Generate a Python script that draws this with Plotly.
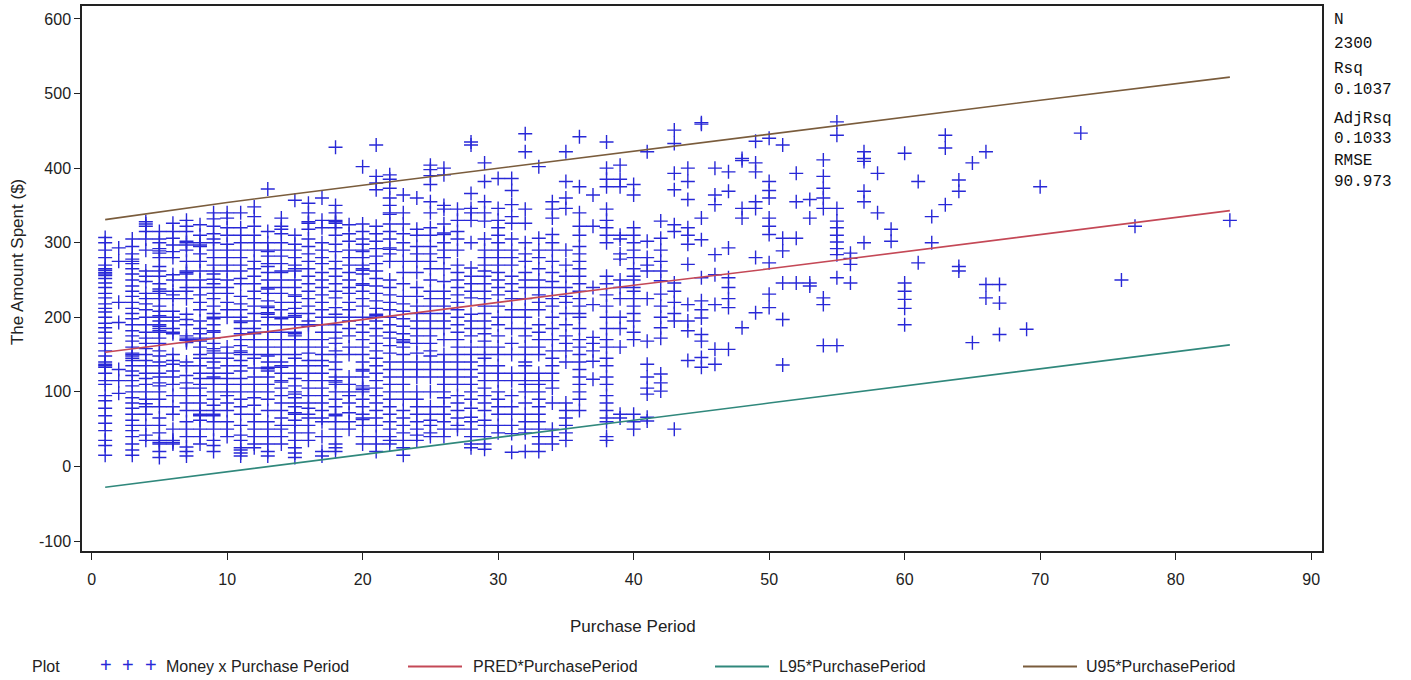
import plotly.graph_objects as go

# ---- scatter data: amount spent ($) observed at each purchase period ----
p01 = [15, 28, 35, 48, 58, 68, 78, 88, 95, 110, 115, 125, 133, 135, 137, 140, 148, 155, 165, 172, 180, 186, 192, 200, 207, 212, 218, 226, 232, 240, 246, 252, 256, 258, 260, 263, 265, 270, 280, 290, 300, 307]
p02 = [293, 275, 220, 193, 130, 115, 98]
p03 = [15, 22, 30, 40, 48, 55, 62, 70, 78, 85, 92, 100, 108, 115, 122, 128, 135, 142, 145, 148, 150, 152, 160, 168, 175, 182, 190, 198, 205, 212, 220, 228, 235, 242, 250, 258, 265, 272, 275, 278, 285, 295, 305]
p04 = [35, 42, 55, 70, 80, 84, 90, 100, 110, 118, 125, 135, 142, 150, 158, 165, 172, 180, 190, 200, 210, 218, 225, 232, 248, 255, 262, 290, 305, 315, 322, 325, 328]
p05 = [12, 20, 30, 32, 35, 45, 55, 65, 80, 90, 100, 108, 112, 120, 125, 135, 140, 148, 155, 165, 172, 180, 182, 185, 188, 190, 195, 200, 202, 208, 215, 225, 232, 235, 238, 245, 255, 262, 268, 280, 286, 289, 292, 300, 305, 315]
p06 = [30, 32, 35, 50, 70, 80, 95, 110, 120, 128, 137, 142, 150, 178, 180, 185, 195, 200, 208, 225, 230, 235, 250, 257, 280, 288, 297, 306, 315, 326]
p07 = [14, 20, 26, 40, 50, 60, 75, 85, 95, 105, 112, 122, 135, 140, 166, 169, 170, 172, 175, 190, 197, 204, 225, 235, 240, 250, 258, 260, 262, 275, 290, 297, 300, 302, 315, 322, 330]
p08 = [30, 40, 50, 62, 68, 70, 75, 85, 95, 105, 110, 118, 125, 135, 145, 150, 160, 168, 170, 172, 178, 185, 195, 210, 220, 230, 240, 250, 262, 275, 285, 295, 297, 300, 310, 324]
p09 = [20, 28, 35, 50, 60, 68, 70, 75, 82, 90, 100, 110, 118, 120, 125, 132, 140, 145, 152, 155, 158, 165, 172, 180, 182, 190, 198, 200, 205, 215, 225, 232, 240, 245, 251, 258, 262, 270, 280, 290, 300, 305, 312, 322, 332, 340]
p10 = [40, 50, 60, 75, 85, 95, 100, 110, 118, 125, 135, 145, 152, 160, 200, 210, 220, 232, 240, 250, 262, 270, 280, 290, 298, 310, 320, 333, 340]
p11 = [14, 18, 22, 25, 35, 42, 55, 70, 80, 90, 100, 110, 118, 128, 135, 142, 150, 153, 155, 162, 170, 178, 185, 193, 195, 200, 210, 218, 228, 245, 252, 262, 270, 280, 290, 300, 310, 320, 340]
p12 = [25, 30, 40, 50, 60, 70, 82, 92, 100, 110, 120, 132, 145, 150, 160, 170, 178, 180, 185, 195, 205, 215, 225, 235, 245, 255, 265, 275, 290, 300, 310, 322, 335, 348]
p13 = [14, 20, 30, 40, 50, 60, 75, 90, 100, 110, 120, 128, 131, 133, 140, 148, 150, 160, 170, 180, 190, 200, 204, 206, 213, 215, 222, 232, 238, 240, 250, 260, 268, 272, 282, 288, 290, 300, 315, 372]
p14 = [30, 40, 50, 55, 65, 75, 85, 95, 105, 113, 115, 125, 133, 135, 140, 150, 160, 170, 180, 190, 198, 200, 210, 220, 232, 240, 250, 260, 262, 272, 282, 290, 300, 312, 318, 322, 333]
p15 = [12, 18, 25, 35, 45, 55, 62, 70, 72, 80, 85, 92, 97, 100, 108, 118, 125, 135, 145, 150, 160, 170, 175, 178, 180, 190, 200, 202, 205, 212, 220, 228, 230, 240, 250, 262, 265, 270, 280, 290, 298, 310, 357]
p16 = [35, 45, 55, 65, 70, 78, 85, 95, 105, 115, 125, 135, 142, 152, 160, 170, 188, 190, 195, 205, 215, 225, 235, 245, 255, 265, 275, 285, 295, 305, 318, 326, 328, 340, 353]
p17 = [14, 20, 40, 60, 65, 75, 85, 95, 105, 115, 125, 135, 142, 150, 160, 170, 180, 190, 200, 210, 220, 230, 240, 250, 260, 272, 280, 290, 300, 320, 330, 360]
p18 = [20, 25, 30, 40, 50, 60, 68, 70, 80, 90, 100, 110, 113, 115, 120, 130, 140, 150, 155, 165, 172, 180, 190, 200, 204, 213, 226, 235, 245, 255, 265, 275, 288, 298, 310, 320, 326, 328, 330, 340, 350, 428]
p19 = [50, 60, 72, 85, 95, 100, 110, 120, 150, 160, 175, 185, 195, 200, 210, 220, 232, 240, 250, 260, 270, 280, 290, 302, 312, 324]
p20 = [30, 40, 55, 63, 65, 70, 80, 90, 100, 103, 105, 108, 120, 128, 130, 140, 150, 160, 170, 180, 190, 200, 215, 225, 235, 243, 245, 258, 263, 265, 270, 280, 288, 290, 298, 305, 315, 325, 402]
p21 = [20, 30, 40, 55, 65, 75, 85, 95, 105, 115, 125, 135, 145, 155, 165, 175, 185, 195, 200, 202, 204, 212, 222, 232, 242, 252, 262, 272, 282, 292, 302, 312, 322, 371, 380, 389, 431]
p22 = [30, 35, 40, 50, 60, 70, 80, 90, 100, 110, 120, 130, 140, 152, 162, 172, 180, 190, 200, 210, 220, 230, 240, 250, 275, 285, 291, 293, 305, 315, 325, 338, 340, 350, 360, 373, 385, 391]
p23 = [15, 25, 35, 45, 55, 65, 75, 90, 100, 110, 120, 130, 140, 150, 160, 166, 168, 170, 178, 188, 198, 208, 218, 228, 245, 260, 275, 290, 300, 312, 325, 340, 364]
p24 = [35, 42, 50, 60, 70, 80, 90, 100, 120, 130, 140, 152, 165, 175, 185, 195, 205, 215, 228, 240, 260, 275, 285, 295, 310, 318, 360]
p25 = [40, 45, 55, 62, 70, 80, 100, 120, 130, 140, 148, 155, 165, 175, 185, 195, 205, 215, 225, 235, 250, 265, 275, 285, 295, 310, 320, 340, 355, 378, 390, 398, 404]
p26 = [40, 50, 60, 70, 80, 92, 100, 110, 120, 130, 140, 150, 170, 185, 195, 205, 215, 225, 235, 248, 265, 280, 290, 300, 311, 313, 325, 345, 350, 391, 400]
p27 = [50, 55, 65, 75, 85, 95, 110, 120, 130, 140, 150, 160, 170, 180, 190, 200, 210, 220, 230, 240, 250, 260, 270, 290, 305, 315, 330, 345]
p28 = [25, 30, 40, 50, 60, 66, 78, 90, 100, 110, 120, 130, 140, 150, 160, 175, 185, 195, 204, 226, 235, 245, 255, 266, 300, 330, 340, 346, 366, 431, 435]
p29 = [23, 30, 40, 55, 62, 75, 85, 95, 105, 115, 125, 135, 145, 150, 160, 168, 178, 185, 195, 205, 215, 225, 235, 245, 255, 262, 270, 280, 290, 305, 329, 340, 355, 382, 407]
p30 = [45, 55, 70, 80, 90, 100, 115, 125, 135, 150, 160, 175, 190, 200, 215, 230, 240, 250, 260, 270, 280, 290, 300, 310, 320, 330, 346, 386]
p31 = [19, 44, 55, 70, 80, 95, 115, 125, 150, 165, 185, 200, 210, 225, 235, 245, 255, 270, 280, 290, 305, 326, 335, 351, 370, 386]
p32 = [20, 45, 50, 60, 70, 85, 100, 110, 115, 125, 135, 140, 150, 160, 175, 185, 200, 210, 225, 240, 250, 260, 275, 285, 300, 326, 345, 422, 446]
p33 = [20, 30, 40, 50, 60, 70, 80, 90, 100, 110, 115, 125, 150, 160, 170, 180, 190, 210, 220, 230, 240, 250, 265, 280, 290, 306, 402]
p34 = [30, 40, 50, 85, 105, 115, 125, 135, 145, 155, 170, 185, 200, 215, 225, 240, 248, 260, 275, 290, 300, 311, 333, 345, 355]
p35 = [35, 45, 55, 65, 75, 85, 140, 155, 165, 175, 190, 205, 220, 228, 240, 255, 270, 290, 346, 360, 382, 422]
p36 = [75, 90, 100, 110, 120, 130, 140, 150, 160, 170, 185, 200, 205, 215, 225, 235, 245, 255, 265, 275, 285, 295, 310, 322, 340, 375, 442]
p37 = [117, 141, 155, 165, 173, 217, 240, 322, 364]
p38 = [35, 40, 60, 65, 75, 85, 95, 110, 120, 135, 145, 160, 170, 185, 200, 215, 230, 245, 255, 300, 310, 320, 330, 345, 375, 385, 400, 435]
p39 = [65, 70, 160, 185, 200, 225, 240, 250, 278, 285, 305, 310, 375, 385, 404]
p40 = [50, 60, 70, 170, 180, 195, 205, 215, 225, 235, 240, 250, 255, 265, 280, 290, 300, 310, 320, 364, 378]
p41 = [61, 66, 97, 105, 120, 137, 168, 225, 262, 270, 280, 302, 422]
p42 = [101, 112, 124, 172, 186, 200, 215, 231, 249, 262, 275, 290, 306, 329]
p43 = [50, 195, 205, 220, 235, 246, 315, 324, 371, 393, 433, 451]
p44 = [142, 182, 195, 217, 271, 298, 310, 320, 358, 382, 400]
p45 = [133, 146, 168, 177, 199, 210, 222, 253, 304, 333, 459, 461]
p46 = [137, 157, 217, 257, 284, 351, 364, 400]
p47 = [157, 213, 225, 240, 253, 293, 369, 395]
p48 = [186, 333, 346, 410, 413]
p49 = [206, 280, 346, 355, 395, 407, 436]
p50 = [213, 231, 273, 311, 322, 333, 360, 370, 382, 440]
p51 = [136, 197, 246, 289, 306, 431]
p52 = [246, 306, 355, 393]
p53 = [242, 246, 333, 358]
p54 = [162, 217, 226, 346, 360, 373, 389, 411]
p55 = [162, 253, 284, 292, 301, 310, 320, 329, 346, 444, 462]
p56 = [246, 271, 279, 286]
p57 = [300, 355, 369, 409, 413, 422]
p58 = [340, 393]
p59 = [302, 318]
p60 = [190, 212, 224, 235, 246, 420]
p61 = [273, 382]
p62 = [300, 335]
p63 = [351, 427, 444]
p64 = [262, 268, 369, 384]
p65 = [166, 407]
p66 = [226, 244, 422]
p67 = [177, 219, 244]
p69 = [184]
p70 = [375]
p73 = [447]
p76 = [250]
p77 = [322]
p84 = [330]

by_period = {1: p01, 2: p02, 3: p03, 4: p04, 5: p05, 6: p06, 7: p07, 8: p08, 9: p09, 10: p10,
             11: p11, 12: p12, 13: p13, 14: p14, 15: p15, 16: p16, 17: p17, 18: p18, 19: p19, 20: p20,
             21: p21, 22: p22, 23: p23, 24: p24, 25: p25, 26: p26, 27: p27, 28: p28, 29: p29, 30: p30,
             31: p31, 32: p32, 33: p33, 34: p34, 35: p35, 36: p36, 37: p37, 38: p38, 39: p39, 40: p40,
             41: p41, 42: p42, 43: p43, 44: p44, 45: p45, 46: p46, 47: p47, 48: p48, 49: p49, 50: p50,
             51: p51, 52: p52, 53: p53, 54: p54, 55: p55, 56: p56, 57: p57, 58: p58, 59: p59, 60: p60,
             61: p61, 62: p62, 63: p63, 64: p64, 65: p65, 66: p66, 67: p67, 69: p69, 70: p70, 73: p73,
             76: p76, 77: p77, 84: p84}

# ---- fitted line and 95% limits ----
line_x = [1, 10, 20, 30, 40, 50, 60, 70, 84]
pred = [153, 174, 197, 220, 243, 265, 288, 311, 343]
l95 = [-28, -7, 16, 39, 62, 85, 108, 131, 163]
u95 = [331, 354, 377, 400, 423, 446, 468, 491, 522]

x_ticks = [0, 10, 20, 30, 40, 50, 60, 70, 80, 90]
y_ticks = [-100, 0, 100, 200, 300, 400, 500, 600]
y_tick_text = ["-100", "0", "100", "200", "300", "400", "500", "600"]

stats_labels = ["N", "2300", "Rsq", "0.1037", "AdjRsq", "0.1033", "RMSE", "90.973"]

xs, ys = [], []
for k, vals in by_period.items():
    for v in vals:
        xs.append(k)
        ys.append(v)

BLUE = "rgb(40,40,215)"
RED = "rgb(196,72,86)"
GREEN = "rgb(48,136,124)"
BROWN = "rgb(122,92,60)"
FONT = "Liberation Sans, Arial, sans-serif"

fig = go.Figure()
fig.add_trace(go.Scatter(x=xs, y=ys, mode="markers", name="Money x Purchase Period",
                         marker=dict(symbol="cross-thin", size=10, color=BLUE,
                                     line=dict(color=BLUE, width=1.4)),
                         showlegend=False))
fig.add_trace(go.Scatter(x=line_x, y=pred, mode="lines", line=dict(color=RED, width=1.6), showlegend=False))
fig.add_trace(go.Scatter(x=line_x, y=l95, mode="lines", line=dict(color=GREEN, width=1.6), showlegend=False))
fig.add_trace(go.Scatter(x=line_x, y=u95, mode="lines", line=dict(color=BROWN, width=1.6), showlegend=False))

L, R, T, B = 82, 89, 4, 129
W, H = 1411, 680
pw, ph = W - L - R, H - T - B

def px_x(p):
    return (p - L) / pw

def px_y(p):
    return (H - B - p) / ph

fig.update_layout(
    width=W, height=H,
    margin=dict(l=L, r=R, t=T, b=B),
    paper_bgcolor="white", plot_bgcolor="white",
    font=dict(family=FONT, size=16, color="#222"),
    xaxis=dict(range=[-0.71, 90.8], tickvals=x_ticks,
               showgrid=False, zeroline=False, showline=True, linecolor="#222", linewidth=1.5,
               mirror=True, ticks="outside", ticklen=7, tickcolor="#222", tickfont=dict(size=16),
               ticklabelstandoff=6),
    yaxis=dict(range=[-113.4, 617.4], tickvals=y_ticks, ticktext=y_tick_text,
               showgrid=False, zeroline=False, showline=True, linecolor="#222", linewidth=1.5,
               mirror=True, ticks="outside", ticklen=6, tickcolor="#222", tickfont=dict(size=16)),
)

def note(text, x, y, xanchor="center", **kw):
    d = dict(text=text, x=px_x(x), y=px_y(y), xref="paper", yref="paper",
             xanchor=xanchor, yanchor="middle", showarrow=False)
    d.update(kw)
    return d

ann = []
ann.append(note("Purchase Period", 633, 627, font=dict(size=17)))
ann.append(note("The Amount Spent ($)", 17, 261, textangle=-90, font=dict(size=17)))

stat_y = [18, 42, 67, 88, 117, 137, 160, 181]
for lab, yy in zip(stats_labels, stat_y):
    ann.append(note(lab, 1332, yy, xanchor="left",
                    font=dict(family="Liberation Mono, DejaVu Sans Mono, monospace", size=16, color="#111")))

# legend row (manual)
LY = 667
ann.append(note("Plot", 30, LY, xanchor="left", font=dict(size=16)))
for cx in [106, 128, 151]:
    ann.append(note("+", cx, LY - 2, font=dict(size=20, color=BLUE)))
legend_items = [
    ("Money x Purchase Period", 164, None, None, None),
    ("PRED*PurchasePeriod", 471, RED, 408, 462),
    ("L95*PurchasePeriod", 777, GREEN, 715, 769),
    ("U95*PurchasePeriod", 1084, BROWN, 1023, 1077),
]
shapes = []
for text, tx, col, x0, x1 in legend_items:
    ann.append(note(text, tx, LY, xanchor="left", font=dict(size=16)))
    if col:
        shapes.append(dict(type="line", xref="paper", yref="paper", x0=px_x(x0), x1=px_x(x1),
                           y0=px_y(LY), y1=px_y(LY), line=dict(color=col, width=2)))

fig.update_layout(annotations=ann, shapes=shapes)
fig.write_html("out.html")
